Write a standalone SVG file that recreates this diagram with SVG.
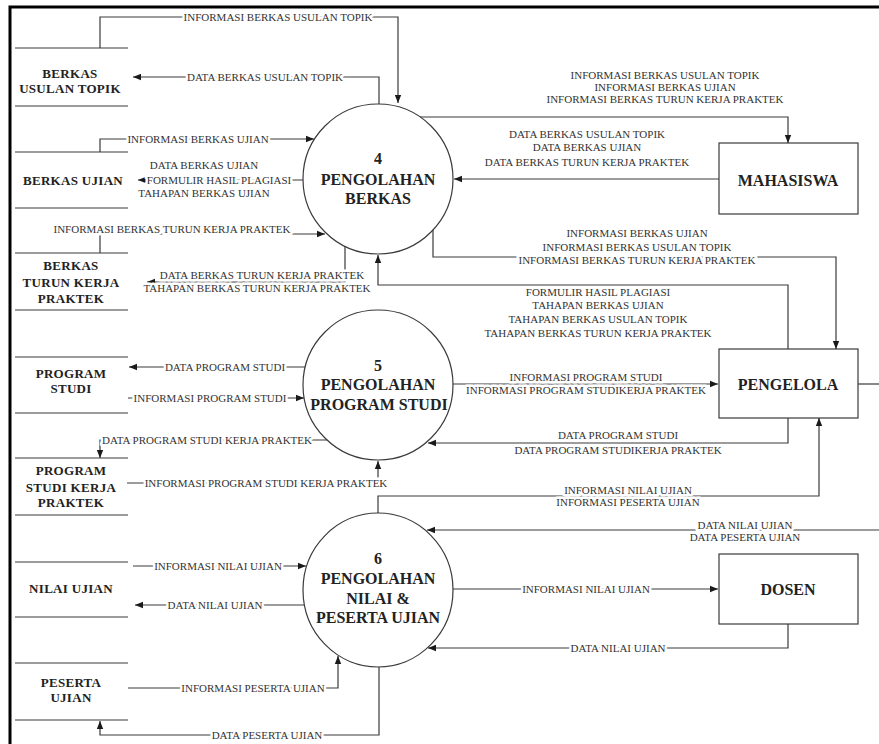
<svg xmlns="http://www.w3.org/2000/svg" width="879" height="744" viewBox="0 0 879 744">
<style>
.ln{fill:none;stroke:#3a3a3a;stroke-width:1.2}
.ar{marker-end:url(#ah)}
.lb{font-family:"Liberation Serif",serif;font-size:11px;fill:#333;text-anchor:middle;dominant-baseline:central;stroke:#fff;stroke-width:5;stroke-linejoin:round;paint-order:stroke}
.ds line{stroke:#3a3a3a;stroke-width:1.2}
.ds text{font-family:"Liberation Serif",serif;font-size:13px;font-weight:bold;fill:#222;text-anchor:middle;dominant-baseline:central;letter-spacing:0.3px}
.pr circle,.pr ellipse,.en rect{fill:#fff;stroke:#3a3a3a;stroke-width:1.2}
.pr text,.en text{font-family:"Liberation Serif",serif;font-size:16px;font-weight:bold;fill:#222;text-anchor:middle;dominant-baseline:central}
</style>
<defs>
<marker id="ah" viewBox="0 0 8 8" refX="8" refY="4" markerWidth="8" markerHeight="8" orient="auto" markerUnits="userSpaceOnUse">
<path d="M0,0.8 L8,4 L0,7.2 z" fill="#1a1a1a"/>
</marker>
</defs>
<rect width="879" height="744" fill="#fff"/>
<path d="M10,744 V7 H879" fill="none" stroke="#000" stroke-width="3"/>

<g id="nodes">
<g id="p4" class="pr"><circle cx="378" cy="179" r="75"/><text x="378" y="158">4</text><text x="378" y="179">PENGOLAHAN</text><text x="378" y="198">BERKAS</text></g>
<g id="p5" class="pr"><circle cx="378" cy="385" r="75"/><text x="378" y="365">5</text><text x="378" y="384">PENGOLAHAN</text><text x="379" y="404">PROGRAM STUDI</text></g>
<g id="p6" class="pr"><ellipse cx="378" cy="590" rx="75" ry="77"/><text x="378" y="558">6</text><text x="378" y="578">PENGOLAHAN</text><text x="378" y="598">NILAI &amp;</text><text x="378" y="617">PESERTA UJIAN</text></g>
<g id="mahasiswa" class="en"><rect x="719" y="143" width="139" height="71"/><text x="788" y="180">MAHASISWA</text></g>
<g id="pengelola" class="en"><rect x="719" y="349" width="139" height="69"/><text x="788" y="384">PENGELOLA</text></g>
<g id="dosen" class="en"><rect x="719" y="554" width="139" height="70"/><text x="788" y="589">DOSEN</text></g>
<g id="ds-usulan" class="ds"><line x1="15" y1="48" x2="128" y2="48"/><line x1="15" y1="106" x2="128" y2="106"/><text x="70" y="73">BERKAS</text><text x="70" y="88">USULAN TOPIK</text></g>
<g id="ds-ujian" class="ds"><line x1="15" y1="152" x2="128" y2="152"/><line x1="15" y1="208" x2="128" y2="208"/><text x="73" y="180">BERKAS UJIAN</text></g>
<g id="ds-turun" class="ds"><line x1="15" y1="253" x2="128" y2="253"/><line x1="15" y1="310" x2="128" y2="310"/><text x="71" y="265">BERKAS</text><text x="71" y="282">TURUN KERJA</text><text x="71" y="298">PRAKTEK</text></g>
<g id="ds-prodi" class="ds"><line x1="15" y1="357" x2="128" y2="357"/><line x1="15" y1="413" x2="128" y2="413"/><text x="71" y="373">PROGRAM</text><text x="71" y="388">STUDI</text></g>
<g id="ds-prodikp" class="ds"><line x1="15" y1="458" x2="128" y2="458"/><line x1="15" y1="515" x2="128" y2="515"/><text x="71" y="470">PROGRAM</text><text x="71" y="487">STUDI KERJA</text><text x="71" y="502">PRAKTEK</text></g>
<g id="ds-nilai" class="ds"><line x1="15" y1="562" x2="128" y2="562"/><line x1="15" y1="617" x2="128" y2="617"/><text x="71" y="588">NILAI UJIAN</text></g>
<g id="ds-peserta" class="ds"><line x1="15" y1="663" x2="128" y2="663"/><line x1="15" y1="720" x2="128" y2="720"/><text x="71" y="682">PESERTA</text><text x="71" y="697">UJIAN</text></g>
</g>

<g id="connectors">
<path class="ln ar" d="M100,48 V17 H398 V103"/>
<path class="ln ar" d="M379,104 V77 H133"/>
<path class="ln ar" d="M100,152 V139 H314"/>
<path class="ln ar" d="M303,180 H138"/>
<path class="ln ar" d="M100,253 V234 H325"/>
<path class="ln ar" d="M345,246 V282 H147"/>
<path class="ln ar" d="M788,349 V285 H378 V255"/>
<path class="ln ar" d="M420,117 H788 V143"/>
<path class="ln ar" d="M719,179 H454"/>
<path class="ln ar" d="M433,230 V257 H836 V349"/>
<path class="ln ar" d="M453,384 H718"/>
<path class="ln ar" d="M788,418 V443 H428"/>
<path class="ln ar" d="M378,513 V496 H819 V418"/>
<path class="ln ar" d="M879,530 H427"/>
<path class="ln" d="M858,384 H879"/>
<path class="ln ar" d="M453,589 H718"/>
<path class="ln ar" d="M788,624 V648 H428"/>
<path class="ln ar" d="M133,566 H306"/>
<path class="ln ar" d="M304,605 H135"/>
<path class="ln ar" d="M128,688 H338 V656"/>
<path class="ln ar" d="M379,667 V735 H100 V721"/>
<path class="ln ar" d="M305,367 H129"/>
<path class="ln ar" d="M128,398 H304"/>
<path class="ln ar" d="M327,440 H100 V458"/>
<path class="ln ar" d="M127,483 H378 V461"/>

<text class="lb" x="278" y="17">INFORMASI BERKAS USULAN TOPIK</text>
<text class="lb" x="265" y="77">DATA BERKAS USULAN TOPIK</text>
<text class="lb" x="198" y="139">INFORMASI BERKAS UJIAN</text>
<text class="lb"><tspan x="204" y="165">DATA BERKAS UJIAN</tspan><tspan x="219" y="180">FORMULIR HASIL PLAGIASI</tspan><tspan x="204" y="193">TAHAPAN BERKAS UJIAN</tspan></text>
<text class="lb" x="172" y="229">INFORMASI BERKAS TURUN KERJA PRAKTEK</text>
<text class="lb"><tspan x="262" y="275">DATA BERKAS TURUN KERJA PRAKTEK</tspan><tspan x="257" y="288">TAHAPAN BERKAS TURUN KERJA PRAKTEK</tspan></text>
<text class="lb"><tspan x="598" y="292">FORMULIR HASIL PLAGIASI</tspan><tspan x="598" y="305">TAHAPAN BERKAS UJIAN</tspan><tspan x="598" y="319">TAHAPAN BERKAS USULAN TOPIK</tspan><tspan x="598" y="333">TAHAPAN BERKAS TURUN KERJA PRAKTEK</tspan></text>
<text class="lb"><tspan x="665" y="75">INFORMASI BERKAS USULAN TOPIK</tspan><tspan x="665" y="87">INFORMASI BERKAS UJIAN</tspan><tspan x="665" y="99">INFORMASI BERKAS TURUN KERJA PRAKTEK</tspan></text>
<text class="lb"><tspan x="587" y="134">DATA BERKAS USULAN TOPIK</tspan><tspan x="587" y="147">DATA BERKAS UJIAN</tspan><tspan x="587" y="162">DATA BERKAS TURUN KERJA PRAKTEK</tspan></text>
<text class="lb"><tspan x="637" y="233">INFORMASI BERKAS UJIAN</tspan><tspan x="637" y="247">INFORMASI BERKAS USULAN TOPIK</tspan><tspan x="637" y="260">INFORMASI BERKAS TURUN KERJA PRAKTEK</tspan></text>
<text class="lb"><tspan x="586" y="377">INFORMASI PROGRAM STUDI</tspan><tspan x="586" y="390">INFORMASI PROGRAM STUDIKERJA PRAKTEK</tspan></text>
<text class="lb"><tspan x="618" y="435">DATA PROGRAM STUDI</tspan><tspan x="618" y="450">DATA PROGRAM STUDIKERJA PRAKTEK</tspan></text>
<text class="lb"><tspan x="628" y="490">INFORMASI NILAI UJIAN</tspan><tspan x="628" y="502">INFORMASI PESERTA UJIAN</tspan></text>
<text class="lb"><tspan x="745" y="525">DATA NILAI UJIAN</tspan><tspan x="745" y="537">DATA PESERTA UJIAN</tspan></text>
<text class="lb" x="586" y="589">INFORMASI NILAI UJIAN</text>
<text class="lb" x="618" y="648">DATA NILAI UJIAN</text>
<text class="lb" x="218" y="566">INFORMASI NILAI UJIAN</text>
<text class="lb" x="215" y="605">DATA NILAI UJIAN</text>
<text class="lb" x="253" y="688">INFORMASI PESERTA UJIAN</text>
<text class="lb" x="267" y="735">DATA PESERTA UJIAN</text>
<text class="lb" x="225" y="367">DATA PROGRAM STUDI</text>
<text class="lb" x="210" y="398">INFORMASI PROGRAM STUDI</text>
<text class="lb" x="207" y="440">DATA PROGRAM STUDI KERJA PRAKTEK</text>
<text class="lb" x="266" y="483">INFORMASI PROGRAM STUDI KERJA PRAKTEK</text>
</g>
</svg>
